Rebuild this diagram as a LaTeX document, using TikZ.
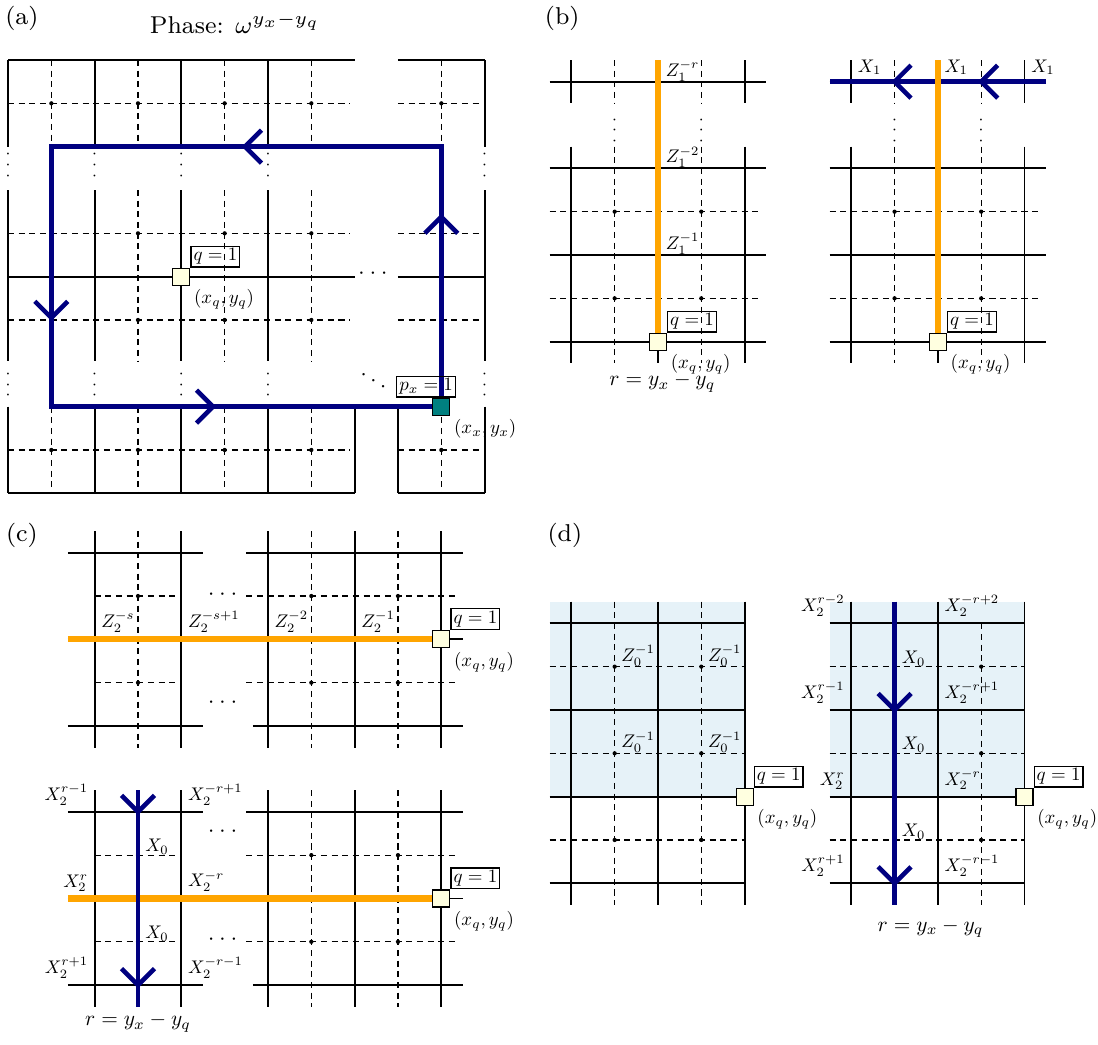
\documentclass[tikz,border=0pt]{standalone}
\usepackage{amsmath}
\usepackage{graphicx}
\usepackage{tikz}
\usetikzlibrary{positioning}

\definecolor{loopblue}{RGB}{0,0,128}
\definecolor{strorange}{RGB}{255,165,0}
\definecolor{qyellow}{RGB}{255,255,224}
\definecolor{pteal}{RGB}{0,128,128}
\definecolor{regionblue}{RGB}{230,242,248}

% shrunken labels (operators, sites, distance)
\newcommand{\oplab}[1]{\scalebox{0.6}{$#1$}}
\newcommand{\sitelab}[1]{\scalebox{0.62}{$#1$}}
\newcommand{\distlab}[1]{\scalebox{0.7}{$#1$}}

\begin{document}
\begin{tikzpicture}[
    x=0.5cm, y=0.5cm,
    prim/.style={line width=0.6pt},
    dual/.style={line width=0.4pt, dash pattern=on 2pt off 1.5pt},
    xloop/.style={draw=loopblue, line width=1.5pt},
    zstring/.style={draw=strorange, line width=2pt},
    qsite/.style={draw, fill=qyellow, minimum size=5.6pt, inner sep=0pt, line width=0.4pt},
    psite/.style={qsite, fill=pteal},
    qlab/.style={draw, inner sep=0.8pt, line width=0.4pt},
    poslab/.style={inner sep=1pt, anchor=north west},
    lab/.style={inner sep=2pt},
    rlab/.style={inner sep=0.5pt},
    onlab/.style={inner sep=0pt, anchor=south west, xshift=2.2pt},
    vdts/.style={font=\tiny, rotate=90, inner sep=0pt},
    hdts/.style={font=\scriptsize, inner sep=0pt},
    panellabel/.style={font=\footnotesize},
    chev/.pic={\draw[xloop] (-0.38,0.38) -- (0,0) -- (-0.38,-0.38);}
]
\useasboundingbox (-0.185,1.385) rectangle (25.155,-22.731);

% Panel (a): closed X loop
\node[panellabel] (lba) at (0.32,0.97) {(a)};
\node[font=\footnotesize] (phase) at (5.24,0.85) {Phase: $\omega^{y_x-y_q}$};
\foreach \y in {0,-5,-10} {
  \draw[prim] (0,\y) -- (8,\y);
  \draw[prim] (9,\y) -- (11,\y);
}
\foreach \y in {-1,-4,-6,-9} {
  \draw[dual] (0,\y) -- (7.9,\y);
  \draw[dual] (9,\y) -- (10.9,\y);
}
\foreach \a/\b in {0/-2,-3/-6.95,-8/-10} {
  \foreach \x in {0,2,4,6,11} \draw[prim] (\x,\a) -- (\x,\b);
  \foreach \x in {1,3,5,7,10} \draw[dual] (\x,\a) -- (\x,\b);
}
\draw[prim] (8,-8) -- (8,-10) (9,-8) -- (9,-10);
\foreach \x in {1,3,5,7,10}
  \foreach \y in {-1,-4,-6,-9} \fill (\x,\y) circle (0.7pt);
\foreach \x in {0,2,4,6,11} {
  \node[vdts] (va\x) at (\x,-2.38) {$\cdots$};
  \node[vdts] (vb\x) at (\x,-7.45) {$\cdots$};
}
\node[hdts] (ha) at (8.47,-4.93) {$\cdots$};
\node[hdts, rotate=-30] (da) at (8.47,-7.43) {$\cdots$};

\node[qsite] (qa) at (4,-5) {};
\node[qlab, anchor=south west] (qalab) at (qa.north east) {\sitelab{q=1}};
\node[poslab] (qapos) at (qa.south east) {\sitelab{(x_q,y_q)}};

\node[psite] (pa) at (10,-8) {};
\draw[xloop] (pa.north) -- (10,-2) -- (1,-2) -- (1,-8) -- (pa.west);
\pic[rotate=180] at (5.47,-2) {chev};
\pic[rotate=90] at (10,-3.62) {chev};
\pic[rotate=-90] at (1,-5.95) {chev};
\pic at (4.73,-8) {chev};
\node[qlab, anchor=south east] (palab) at ([xshift=1.8pt]pa.north east) {\sitelab{p_x=1}};
\node[poslab] (papos) at (pa.south east) {\sitelab{(x_x,y_x)}};

% Panel (b): Z string, then X string on top row
\node[panellabel] (lbb) at (12.79,0.97) {(b)};
\foreach \sx/\k in {13/1,19.46/2} {
  \begin{scope}[shift={(\sx,-0.5)}]
    \draw[prim] (-0.5,0) -- (4.5,0);
    \foreach \y in {-2,-4,-6} \draw[prim] (-0.5,\y) -- (4.5,\y);
    \foreach \y in {-3,-5} \draw[dual] (-0.5,\y) -- (4.4,\y);
    \foreach \x in {0,2,4} \draw[prim] (\x,0.5) -- (\x,-0.5) (\x,-1.5) -- (\x,-6.5);
    \foreach \x in {1,3} {
      \draw[dual] (\x,0.5) -- (\x,-0.5) (\x,-1.5) -- (\x,-6.5);
      \fill (\x,-3) circle (0.7pt) (\x,-5) circle (0.7pt);
      \node[vdts] (vd\k\x) at (\x,-1.08) {$\cdots$};
    }
    \coordinate (tb\k) at (2,0.5);
    \coordinate (lb\k) at (-0.5,0);
    \coordinate (rb\k) at (4.5,0);
    \node[qsite] (qb\k) at (2,-6) {};
    \node[qlab, anchor=south west] (qblab\k) at (qb\k.north east) {\sitelab{q=1}};
    \node[poslab] (qbpos\k) at (qb\k.south east) {\sitelab{(x_q,y_q)}};
  \end{scope}
}
\begin{scope}[shift={(13,-0.5)}]
  \node[onlab, xshift=0.2pt] (zb1) at (2,0) {\oplab{Z_1^{-r}}};
  \node[onlab, xshift=0.2pt] (zb2) at (2,-2) {\oplab{Z_1^{-2}}};
  \node[onlab, xshift=0.2pt] (zb3) at (2,-4) {\oplab{Z_1^{-1}}};
  \node[rlab] (rb) at (2.1,-6.95) {\distlab{r=y_x-y_q}};
\end{scope}
\draw[xloop] (rb2) -- (lb2);
\begin{scope}[shift={(19.46,-0.5)}]
  \pic[rotate=180] at (1,0) {chev};
  \pic[rotate=180] at (3,0) {chev};
  \foreach \x in {0,2,4} \node[lab, anchor=south west] (xb\x) at (\x,0) {\oplab{X_1}};
\end{scope}
\draw[zstring] (tb1) -- (qb1.north);
\draw[zstring] (tb2) -- (qb2.north);

% Panel (c): horizontal Z string, and crossing with vertical X string
\node[panellabel] (lbc) at (0.32,-10.96) {(c)};
\foreach \sy/\k in {-11.37/1,-17.35/2} {
  \begin{scope}[shift={(2,\sy)}]
    \foreach \y in {0,-2,-4} \draw[prim] (-0.62,\y) -- (2.5,\y);
    \draw[prim] (3.5,0) -- (8.5,0) (3.5,-2) -- (8.5,-2) (3.65,-4) -- (8.5,-4);
    \foreach \y in {-1,-3} \draw[dual] (0,\y) -- (1.9,\y) (3.5,\y) -- (8.4,\y);
    \foreach \x in {0,2,4,6,8} \draw[prim] (\x,0.5) -- (\x,-4.5);
    \foreach \x in {1,5,7} {
      \draw[dual] (\x,0.5) -- (\x,-4.5);
      \fill (\x,-1) circle (0.7pt) (\x,-3) circle (0.7pt);
    }
    \coordinate (lc\k) at (-0.62,-2);
    \node[qsite] (qc\k) at (8,-2) {};
    \node[qlab, anchor=south west] (qclab\k) at (qc\k.north east) {\sitelab{q=1}};
    \node[poslab] (qcpos\k) at (qc\k.south east) {\sitelab{(x_q,y_q)}};
  \end{scope}
}
\begin{scope}[shift={(2,-11.37)}]
  \node[hdts] (hc1) at (3,-0.97) {$\cdots$};
  \node[hdts] (hc2) at (3,-3.46) {$\cdots$};
  \node[lab, anchor=south west] (zc1) at (0,-2) {\oplab{Z_2^{-s}}};
  \node[lab, anchor=south west] (zc2) at (2,-2) {\oplab{Z_2^{-s+1}}};
  \node[lab, anchor=south west] (zc3) at (4,-2) {\oplab{Z_2^{-2}}};
  \node[lab, anchor=south west] (zc4) at (6,-2) {\oplab{Z_2^{-1}}};
\end{scope}
\draw[zstring] (lc1) -- (qc1.west);
\draw[zstring] (lc2) -- (qc2.west);
\begin{scope}[shift={(2,-17.35)}]
  \node[hdts] (hc3) at (3,-0.46) {$\cdots$};
  \node[hdts] (hc4) at (3,-2.95) {$\cdots$};
  \coordinate (tc) at (1,0.5);
  \coordinate (bc) at (1,-4.5);
  \draw[xloop] (tc) -- (bc);
  \pic[rotate=-90] at (1,0) {chev};
  \pic[rotate=-90] at (1,-4) {chev};
  \node[lab, anchor=south east] (xc1) at (0,0) {\oplab{X_2^{r-1}}};
  \node[lab, anchor=south west] (xc2) at (2,0) {\oplab{X_2^{-r+1}}};
  \node[onlab] (xc3) at (1,-1) {\oplab{X_0}};
  \node[lab, anchor=south east] (xc4) at (0,-2) {\oplab{X_2^{r}}};
  \node[lab, anchor=south west] (xc5) at (2,-2) {\oplab{X_2^{-r}}};
  \node[onlab] (xc6) at (1,-3) {\oplab{X_0}};
  \node[lab, anchor=south east] (xc7) at (0,-4) {\oplab{X_2^{r+1}}};
  \node[lab, anchor=south west] (xc8) at (2,-4) {\oplab{X_2^{-r-1}}};
  \node[rlab] (rc) at (1,-4.87) {\distlab{r=y_x-y_q}};
\end{scope}

% Panel (d): shaded region of Z_0 and vertical X string
\node[panellabel] (lbd) at (12.85,-10.96) {(d)};
\foreach \sx/\k in {13/1,19.46/2} {
  \begin{scope}[shift={(\sx,-13)}]
    \fill[regionblue] (-0.5,0.5) rectangle (4,-4);
    \foreach \y in {0,-2,-4,-6} \draw[prim] (-0.5,\y) -- (4,\y);
    \foreach \y in {-1,-3,-5} \draw[dual] (-0.5,\y) -- (4,\y);
    \foreach \x in {0,2,4} \draw[prim] (\x,0.5) -- (\x,-6.5);
    \foreach \y in {-1,-3,-5} \fill (3,\y) circle (0.7pt);
    \node[qsite] (qd\k) at (4,-4) {};
    \node[qlab, anchor=south west] (qdlab\k) at (qd\k.north east) {\sitelab{q=1}};
    \node[poslab] (qdpos\k) at (qd\k.south east) {\sitelab{(x_q,y_q)}};
  \end{scope}
}
\begin{scope}[shift={(13,-13)}]
  \foreach \x in {1,3} \draw[dual] (\x,0.5) -- (\x,-6.5);
  \foreach \y in {-1,-3,-5} \fill (1,\y) circle (0.7pt);
  \foreach \x in {1,3}
    \foreach \y in {-1,-3} \node[onlab, xshift=-0.2pt] (zd\x\y) at (\x,\y) {\oplab{Z_0^{-1}}};
\end{scope}
\begin{scope}[shift={(19.46,-13)}]
  \draw[dual] (3,0) -- (3,-6.5);
  \coordinate (td) at (1,0.5);
  \coordinate (bd) at (1,-6.5);
  \draw[xloop] (td) -- (bd);
  \pic[rotate=-90] at (1,-2) {chev};
  \pic[rotate=-90] at (1,-6) {chev};
  \node[lab, anchor=south east] (xd1) at (0,0) {\oplab{X_2^{r-2}}};
  \node[lab, anchor=south west] (xd2) at (2,0) {\oplab{X_2^{-r+2}}};
  \node[onlab] (xd3) at (1,-1) {\oplab{X_0}};
  \node[lab, anchor=south east] (xd4) at (0,-2) {\oplab{X_2^{r-1}}};
  \node[lab, anchor=south west] (xd5) at (2,-2) {\oplab{X_2^{-r+1}}};
  \node[onlab] (xd6) at (1,-3) {\oplab{X_0}};
  \node[lab, anchor=south east] (xd7) at (0,-4) {\oplab{X_2^{r}}};
  \node[lab, anchor=south west] (xd8) at (2,-4) {\oplab{X_2^{-r}}};
  \node[onlab] (xd9) at (1,-5) {\oplab{X_0}};
  \node[lab, anchor=south east] (xd10) at (0,-6) {\oplab{X_2^{r+1}}};
  \node[lab, anchor=south west] (xd11) at (2,-6) {\oplab{X_2^{-r-1}}};
  \node[rlab] (rd) at (1.83,-7.04) {\distlab{r=y_x-y_q}};
\end{scope}

\end{tikzpicture}
\end{document}
